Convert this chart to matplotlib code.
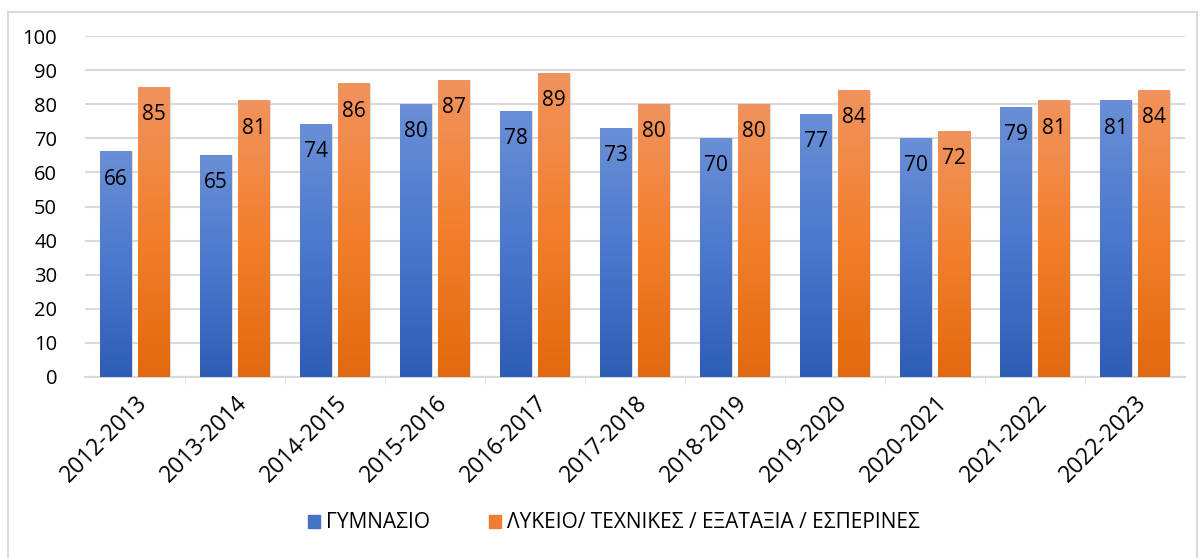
import numpy as np
import matplotlib.pyplot as plt
from matplotlib.patches import Rectangle
from matplotlib.colors import LinearSegmentedColormap

years = ['2012-2013', '2013-2014', '2014-2015', '2015-2016', '2016-2017', '2017-2018',
         '2018-2019', '2019-2020', '2020-2021', '2021-2022', '2022-2023']
gymnasio = [66, 65, 74, 80, 78, 73, 70, 77, 70, 79, 81]
lykeio = [85, 81, 86, 87, 89, 80, 80, 84, 72, 81, 84]
names = ['ΓΥΜΝΑΣΙΟ', 'ΛΥΚΕΙΟ/ ΤΕΧΝΙΚΕΣ / ΕΞΑΤΑΞΙΑ / ΕΣΠΕΡΙΝΕΣ']

plt.rcParams['font.family'] = ['Open Sans', 'DejaVu Sans']

fig = plt.figure(figsize=(12.01, 5.58), dpi=100)
fig.patches.append(Rectangle((8/1201, -0.05), 1189/1201, 1 - 12/558 + 0.05,
                             transform=fig.transFigure, fill=False,
                             edgecolor='#d9d9d9', linewidth=1.5))
ax = fig.add_axes([85/1201, 1 - 377/558, 1100/1201, 341/558])

blue_cm = LinearSegmentedColormap.from_list('b', ['#2e5db5', '#4a78cc', '#6a8fd6'])
orange_cm = LinearSegmentedColormap.from_list('o', ['#e2690f', '#f27f2c', '#f0935e'])
grad = np.linspace(0, 1, 256).reshape(-1, 1)

x = np.arange(len(years))
w = 0.32
gap = 0.06
for xi, g, l in zip(x, gymnasio, lykeio):
    for left, h, cm in [(xi - gap/2 - w, g, blue_cm), (xi + gap/2, l, orange_cm)]:
        ax.add_patch(Rectangle((left + 0.012, -0.4), w, h + 0.4, color='#c8c8c8',
                               alpha=0.6, zorder=2, linewidth=0))
        ax.imshow(grad, extent=(left, left + w, 0, h), origin='lower', cmap=cm,
                  aspect='auto', zorder=3)
        ax.text(left + w/2, h - 8, str(h), ha='center', va='center',
                fontsize=15, color='black', zorder=4)

ax.set_xlim(-0.5, len(years) - 0.5)
ax.set_ylim(0, 100)
ax.set_yticks(range(0, 101, 10))
ax.tick_params(axis='y', length=0, labelsize=14.5, pad=20)
ax.yaxis.grid(True, color='#d9d9d9', linewidth=1.5, zorder=0)
ax.set_axisbelow(True)
ax.set_xticks(x)
ax.set_xticklabels(years, rotation=45, ha='right', rotation_mode='anchor', fontsize=16.5)
ax.set_xticks(x[:-1] + 0.5, minor=True)
ax.tick_params(axis='x', which='major', length=0, pad=10)
ax.tick_params(axis='x', which='minor', length=5, color='#d9d9d9')
for s in ['top', 'right', 'left']:
    ax.spines[s].set_visible(False)
ax.spines['bottom'].set_color('#d9d9d9')
ax.spines['bottom'].set_linewidth(1.5)

handles = [Rectangle((0, 0), 1, 1, color='#4472c4'), Rectangle((0, 0), 1, 1, color='#ed7d31')]
fig.legend(handles, names, loc='center', bbox_to_anchor=(614/1201, 1 - 523/558), ncol=2,
           frameon=False, fontsize=15, handlelength=0.6, handleheight=0.6,
           handletextpad=0.3, columnspacing=2.8)

fig.savefig('out.png', dpi=100)
